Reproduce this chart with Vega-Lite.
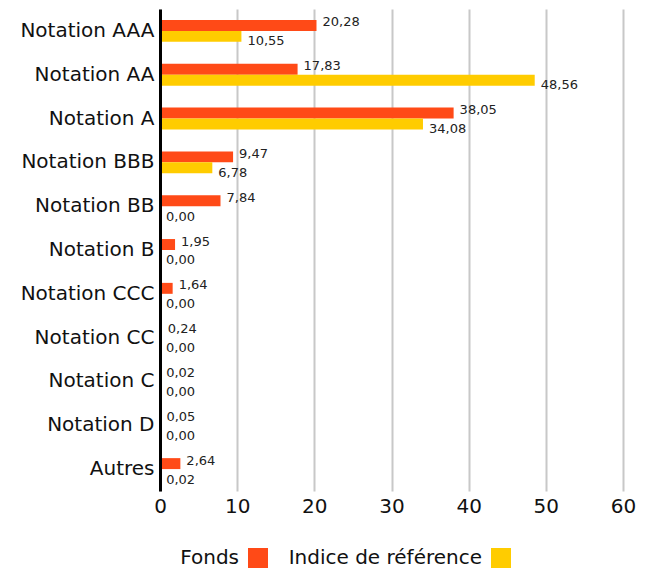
{
  "$schema": "https://vega.github.io/schema/vega-lite/v6.json",
  "autosize": {"type": "none"},
  "padding": {"left": 160, "top": 9, "right": 30, "bottom": 79},
  "width": 463,
  "height": 482,
  "background": "white",
  "config": {
    "view": {"stroke": null},
    "font": "DejaVu Sans",
    "locale": {"number": {"decimal": ",", "thousands": " ", "grouping": [3], "currency": ["", " €"]}}
  },
  "data": {
    "values": [
      {"cat": "Notation AAA", "serie": "Fonds", "value": 20.28},
      {"cat": "Notation AAA", "serie": "Indice de référence", "value": 10.55},
      {"cat": "Notation AA", "serie": "Fonds", "value": 17.83},
      {"cat": "Notation AA", "serie": "Indice de référence", "value": 48.56},
      {"cat": "Notation A", "serie": "Fonds", "value": 38.05},
      {"cat": "Notation A", "serie": "Indice de référence", "value": 34.08},
      {"cat": "Notation BBB", "serie": "Fonds", "value": 9.47},
      {"cat": "Notation BBB", "serie": "Indice de référence", "value": 6.78},
      {"cat": "Notation BB", "serie": "Fonds", "value": 7.84},
      {"cat": "Notation BB", "serie": "Indice de référence", "value": 0.0},
      {"cat": "Notation B", "serie": "Fonds", "value": 1.95},
      {"cat": "Notation B", "serie": "Indice de référence", "value": 0.0},
      {"cat": "Notation CCC", "serie": "Fonds", "value": 1.64},
      {"cat": "Notation CCC", "serie": "Indice de référence", "value": 0.0},
      {"cat": "Notation CC", "serie": "Fonds", "value": 0.24},
      {"cat": "Notation CC", "serie": "Indice de référence", "value": 0.0},
      {"cat": "Notation C", "serie": "Fonds", "value": 0.02},
      {"cat": "Notation C", "serie": "Indice de référence", "value": 0.0},
      {"cat": "Notation D", "serie": "Fonds", "value": 0.05},
      {"cat": "Notation D", "serie": "Indice de référence", "value": 0.0},
      {"cat": "Autres", "serie": "Fonds", "value": 2.64},
      {"cat": "Autres", "serie": "Indice de référence", "value": 0.02}
    ]
  },
  "encoding": {
    "y": {
      "field": "cat",
      "type": "nominal",
      "sort": null,
      "scale": {"paddingInner": 0.5, "paddingOuter": 0.25},
      "axis": {
        "title": null,
        "ticks": false,
        "domain": true,
        "domainColor": "#000000",
        "domainWidth": 3,
        "labelFont": "DejaVu Sans",
        "labelFontSize": 20,
        "labelColor": "#111111",
        "labelPadding": 6,
        "labelLimit": 0,
        "zindex": 2
      }
    },
    "yOffset": {"field": "serie", "type": "nominal", "sort": ["Fonds", "Indice de référence"]},
    "x": {
      "field": "value",
      "type": "quantitative",
      "scale": {"domain": [0, 60], "nice": false},
      "axis": {
        "title": null,
        "values": [0, 10, 20, 30, 40, 50, 60],
        "domain": false,
        "ticks": false,
        "grid": true,
        "gridColor": "#c8c8c8",
        "gridWidth": 2,
        "labelFont": "DejaVu Sans",
        "labelFontSize": 20,
        "labelColor": "#111111",
        "labelPadding": 5,
        "labelFlush": false
      }
    }
  },
  "layer": [
    {
      "mark": {"type": "bar"},
      "encoding": {
        "color": {
          "field": "serie",
          "type": "nominal",
          "sort": ["Fonds", "Indice de référence"],
          "scale": {"domain": ["Fonds", "Indice de référence"], "range": ["#FF4A17", "#FFCC00"]},
          "legend": {
            "title": null,
            "orient": "none",
            "legendX": 88,
            "legendY": 539,
            "direction": "horizontal",
            "symbolType": "square",
            "symbolSize": 400,
            "symbolStrokeWidth": 0,
            "symbolOpacity": 1,
            "labelFont": "DejaVu Sans",
            "labelFontSize": 20,
            "labelColor": "#111111",
            "labelAlign": "right",
            "labelOffset": -29,
            "labelLimit": 0,
            "columnPadding": 20
          }
        }
      }
    },
    {
      "transform": [{"filter": "datum.serie === 'Fonds'"}],
      "mark": {"type": "text", "align": "left", "baseline": "middle", "dx": 6, "dy": -3, "fontSize": 13, "font": "DejaVu Sans", "color": "#222222"},
      "encoding": {"text": {"field": "value", "type": "quantitative", "format": ".2f"}}
    },
    {
      "transform": [{"filter": "datum.serie !== 'Fonds'"}],
      "mark": {"type": "text", "align": "left", "baseline": "middle", "dx": 6, "dy": 5, "fontSize": 13, "font": "DejaVu Sans", "color": "#222222"},
      "encoding": {"text": {"field": "value", "type": "quantitative", "format": ".2f"}}
    }
  ]
}
